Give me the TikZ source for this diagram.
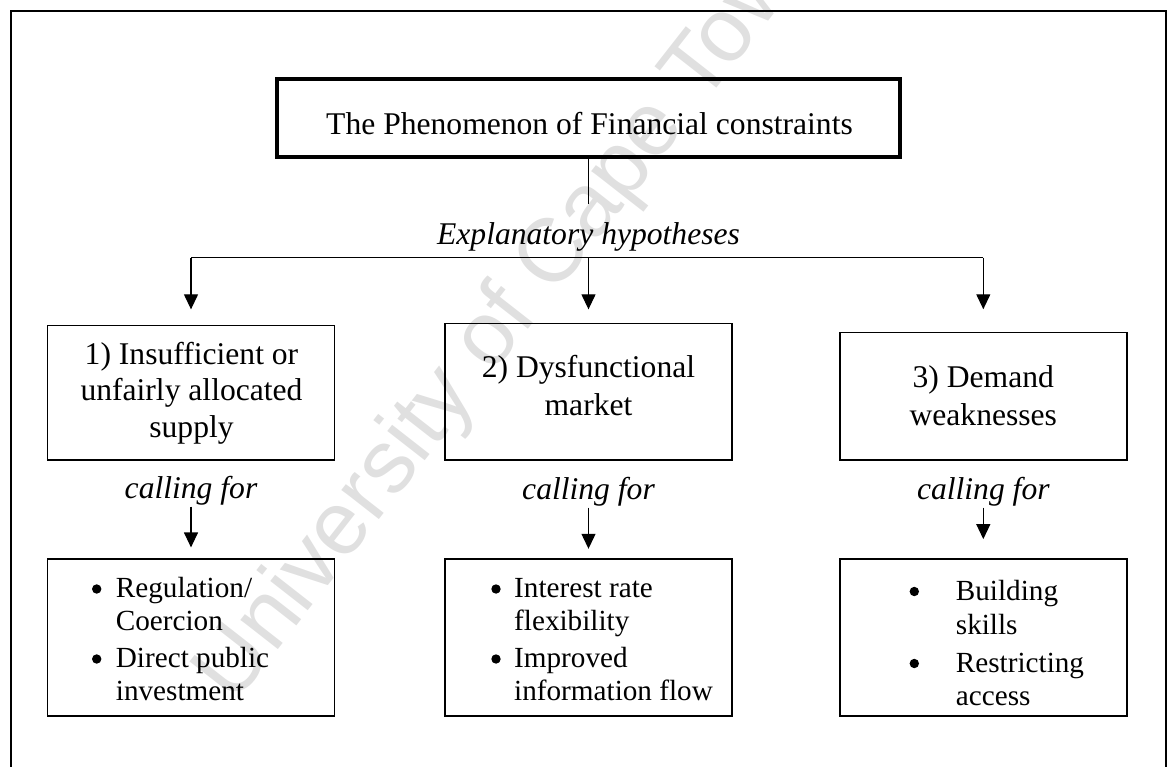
\documentclass[tikz,border=0pt]{standalone}
\usepackage{fontspec}
\setmainfont{Liberation Serif}
\newfontfamily\markfont{Liberation Sans}
\usetikzlibrary{arrows.meta}

% text sizes with their line spacings
\newcommand\txtA{\fontsize{31.6}{36.5}\selectfont}
\newcommand\txtB{\fontsize{31.6}{38.8}\selectfont}
\newcommand\txtC{\fontsize{29.2}{33.4}\selectfont}
\newcommand\ctr[1]{\parbox[t]{320pt}{\centering #1}}
\newcommand\lft[1]{\parbox[t]{240pt}{\raggedright #1}}

\begin{document}
\begin{tikzpicture}[x=1pt,y=-1pt,
  frameline/.style={line width=1.6pt},
  titlebox/.style={draw, line width=3.6pt, inner sep=0pt,
    minimum width=623pt, minimum height=78pt},
  hbox/.style={draw, line width=1.4pt, inner sep=0pt, minimum width=287pt},
  lbox/.style={draw, line width=1.4pt, inner sep=0pt,
    minimum width=287pt, minimum height=157pt},
  txt/.style={inner sep=0pt, anchor=base, font=\txtA},
  itxt/.style={inner sep=0pt, anchor=base, font=\txtA\itshape},
  item/.style={inner sep=0pt, anchor=base west, font=\txtC},
  dot/.style={circle, fill=black, inner sep=0pt, minimum size=9.4pt},
  conn/.style={line width=1.2pt},
  arr/.style={line width=1.2pt, -{Triangle[length=15pt,width=14pt]}}
]
\useasboundingbox (0,0) rectangle (1169,767);
\clip (0,0) rectangle (1169,767);

% faint watermark behind everything
\node[inner sep=0pt, anchor=base west, rotate=52, text=black!12,
  font=\markfont\fontsize{90}{90}\selectfont] (mark) at (234,706)
  {University of Cape Town};

% outer frame (open at the bottom)
\coordinate (fbl) at (11.2,767);
\coordinate (ftl) at (11.2,11);
\coordinate (ftr) at (1166.2,11);
\coordinate (fbr) at (1166.2,767);
\draw[frameline] (fbl) -- (ftl) -- (ftr) -- (fbr);

% title
\node[titlebox] (title) at (588.7,117.8) {};
\node[txt] (titletext) at (589.5,134.3) {The Phenomenon of Financial constraints};

% explanatory hypotheses
\coordinate (hyptop) at (588.7,204);
\node[itxt] (hyp) at (588.5,245) {Explanatory hypotheses};
\coordinate (bus) at (588.5,257.7);

% hypothesis boxes
\node[hbox, minimum height=134.4pt] (box1) at (191,392.85) {};
\node[hbox, minimum height=136.7pt] (box2) at (588.5,391.7) {};
\node[hbox, minimum height=127.4pt] (box3) at (983.3,396.35) {};

\node[txt] (box1text) at (191.5,364.3)
  {\ctr{1) Insufficient or\\unfairly allocated\\supply}};
\node[txt, font=\txtB] (box2text) at (588.5,377)
  {\ctr{2) Dysfunctional\\market}};
\node[txt, font=\txtB] (box3text) at (983.3,387)
  {\ctr{3) Demand\\weaknesses}};

% calling for
\node[itxt] (call1) at (191,498) {calling for};
\node[itxt] (call2) at (588.5,499) {calling for};
\node[itxt] (call3) at (983.3,499) {calling for};

% remedy boxes
\node[lbox] (list1) at (191,637.6) {};
\node[lbox] (list2) at (588.5,637.6) {};
\node[lbox] (list3) at (983.3,637.6) {};

\node[dot] (b11) at (96.7,589) {};
\node[item] (i11) at (115.7,597.3) {\lft{Regulation/\\Coercion}};
\node[dot] (b12) at (96.7,659) {};
\node[item] (i12) at (115.7,667.3) {\lft{Direct public\\investment}};

\node[dot] (b21) at (496,589) {};
\node[item] (i21) at (514,597.3) {\lft{Interest rate\\flexibility}};
\node[dot] (b22) at (496,659) {};
\node[item] (i22) at (514,667.3) {\lft{Improved\\information flow}};

\node[dot] (b31) at (914.3,591.5) {};
\node[item] (i31) at (955.7,600.7) {\lft{Building\\skills}};
\node[dot] (b32) at (914.3,663.5) {};
\node[item] (i32) at (955.7,672.3) {\lft{Restricting\\access}};

% connectors
\draw[conn] (title.south) -- (hyptop);
\draw[conn] (box1.north |- bus) -- (box3.north |- bus);
\draw[arr, shorten >=15.6pt] (box1.north |- bus) -- (box1.north);
\draw[arr, shorten >=13.3pt] (box2.north |- bus) -- (box2.north);
\draw[arr, shorten >=22.7pt] (box3.north |- bus) -- (box3.north);

\draw[arr, shorten <=1.8pt, shorten >=11pt] (call1.south) -- (list1.north);
\draw[arr, shorten <=1.8pt, shorten >=9.6pt] (call2.south) -- (list2.north);
\draw[arr, shorten <=1.8pt, shorten >=19.3pt] (call3.south) -- (list3.north);
\end{tikzpicture}
\end{document}
